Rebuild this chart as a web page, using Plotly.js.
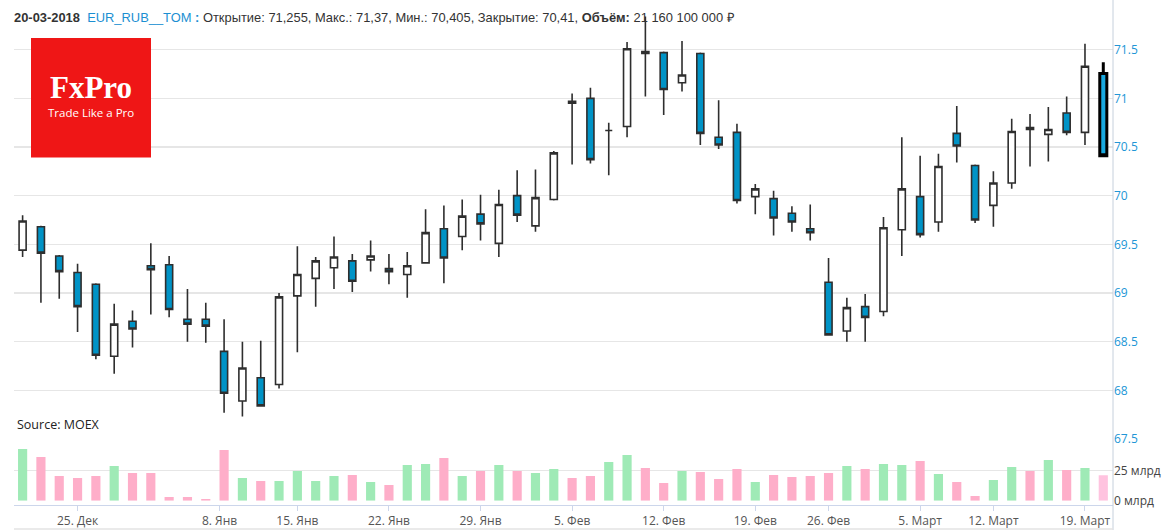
<!DOCTYPE html>
<html>
<head>
<meta charset="utf-8">
<script src="https://cdn.plot.ly/plotly-3.0.1.min.js"></script>
<style>
html,body{margin:0;padding:0;background:#fff;}
#chart{width:1165px;height:530px;}
</style>
</head>
<body>
<div id="chart"></div>
<script>
// ---- data ----
const dates = [
 '2017-12-20','2017-12-21','2017-12-22','2017-12-25','2017-12-26','2017-12-27','2017-12-28','2017-12-29',
 '2018-01-03','2018-01-04','2018-01-05','2018-01-09','2018-01-10','2018-01-11','2018-01-12',
 '2018-01-15','2018-01-16','2018-01-17','2018-01-18','2018-01-19',
 '2018-01-22','2018-01-23','2018-01-24','2018-01-25','2018-01-26',
 '2018-01-29','2018-01-30','2018-01-31','2018-02-01','2018-02-02',
 '2018-02-05','2018-02-06','2018-02-07','2018-02-08','2018-02-09',
 '2018-02-12','2018-02-13','2018-02-14','2018-02-15','2018-02-16',
 '2018-02-19','2018-02-20','2018-02-21','2018-02-22',
 '2018-02-26','2018-02-27','2018-02-28','2018-03-01','2018-03-02',
 '2018-03-05','2018-03-06','2018-03-07','2018-03-09',
 '2018-03-12','2018-03-13','2018-03-14','2018-03-15','2018-03-16',
 '2018-03-19','2018-03-20'
];
const openP = [
 69.44,69.68,69.38,69.21,69.09,68.35,68.71,69.28,
 69.29,68.73,68.73,68.40,67.89,68.13,68.06,
 68.97,69.15,69.26,69.33,69.34,
 69.25,69.19,69.31,69.66,69.58,
 69.81,69.51,70.00,69.69,69.96,
 70.97,71.00,70.67,70.71,71.48,
 71.47,71.16,71.46,70.60,70.65,
 69.99,69.97,69.82,69.66,
 69.11,68.61,68.86,68.81,69.65,
 69.99,69.73,70.64,70.31,
 69.90,70.13,70.70,70.63,70.85,
 70.65,71.255
];
const highP = [
 69.80,69.69,69.39,69.30,69.10,68.89,68.82,69.51,
 69.38,69.04,68.90,68.73,68.50,68.51,69.00,
 69.48,69.37,69.58,69.40,69.54,
 69.40,69.42,69.86,69.90,69.96,
 70.01,70.06,70.26,70.27,70.46,
 71.05,71.11,70.75,71.58,71.84,
 71.48,71.59,71.47,70.98,70.74,
 70.12,70.05,69.89,69.91,
 69.36,68.95,68.99,69.78,70.60,
 70.41,70.43,70.92,70.32,
 70.25,70.79,70.84,70.91,71.02,
 71.56,71.37
];
const lowP = [
 69.37,68.90,68.94,68.60,68.32,68.17,68.44,68.78,
 68.75,68.50,68.49,67.77,67.73,67.84,68.02,
 68.39,68.86,69.04,69.01,69.22,
 69.09,68.95,69.30,69.10,69.44,
 69.54,69.37,69.73,69.63,69.95,
 70.32,70.33,70.21,70.60,71.02,
 70.83,71.07,70.52,70.48,69.92,
 69.81,69.59,69.63,69.54,
 68.57,68.50,68.50,68.76,69.38,
 69.57,69.63,70.34,69.72,
 69.68,70.07,70.30,70.35,70.62,
 70.52,70.405
];
const closeP = [
 69.74,69.41,69.22,68.86,68.36,68.68,68.63,69.24,
 68.83,68.68,68.66,67.97,68.23,67.84,68.96,
 69.19,69.33,69.37,69.12,69.38,
 69.22,69.28,69.62,69.36,69.79,
 69.71,69.91,69.80,69.98,70.44,
 70.95,70.37,70.67,71.51,71.46,
 71.09,71.24,70.64,70.52,69.95,
 70.07,69.77,69.73,69.62,
 68.57,68.85,68.75,69.67,70.07,
 69.60,70.30,70.51,69.75,
 70.13,70.66,70.68,70.68,70.65,
 71.33,70.41
];
// turnover, billions of roubles
const volumeBn = [
 43.1,36.4,20.6,18.9,20.6,28.9,23.1,23.1,
 3.1,3.1,1.4,42.2,18.9,16.4,16.4,
 24.7,16.4,20.6,21.4,15.6,
 13.1,29.7,30.6,35.6,20.6,
 24.7,29.7,24.7,23.1,26.4,
 18.9,20.6,32.2,38.1,27.2,
 14.7,24.7,23.9,18.1,26.4,
 15.6,21.4,19.7,20.6,
 23.1,28.9,26.4,30.6,29.7,
 33.1,22.2,15.6,3.9,
 17.2,28.1,24.7,33.9,25.6,
 27.2,21.16
];
const lastVolumeRub = 21160100000;
const tickDates = ['2017-12-25','2018-01-08','2018-01-15','2018-01-22','2018-01-29','2018-02-05',
                   '2018-02-12','2018-02-19','2018-02-26','2018-03-05','2018-03-12','2018-03-19'];
const tickLabels = ['25. Дек','8. Янв','15. Янв','22. Янв','29. Янв','5. Фев',
                    '12. Фев','19. Фев','26. Фев','5. Март','12. Март','19. Март'];
const priceTicks = [67.5,68,68.5,69,69.5,70,70.5,71,71.5,72];
const volTicks = [0,25,50];
const volTickLabels = ['0 млрд','25 млрд',''];
const ticker = 'EUR_RUB__TOM';

// ---- helpers ----
const N = dates.length;
const idx = dates.map((d,i)=>i);
const times = dates.map(d=>Date.parse(d));
function ordinalPos(d){
  const t = Date.parse(d);
  for(let i=0;i<N-1;i++){
    if(t>=times[i] && t<times[i+1]) return i + (t-times[i])/(times[i+1]-times[i]);
  }
  return N-1;
}
const tickPos = tickDates.map(ordinalPos);
const dir = closeP.map((c,i)=> c>openP[i] ? 1 : (c<openP[i] ? -1 : (i>0 && c>=closeP[i-1] ? 1 : -1)));
const volColors = dir.map((d,i)=> i===N-1 ? '#ffc3df' : (d>0 ? '#9feab6' : '#feaec9'));
const fmt = v => String(v).replace('.',',');
const fmtVol = v => String(v).replace(/\B(?=(\d{3})+(?!\d))/g,'\u00a0');

const W=1165, H=530;
const px = x => x/W;
const py = y => (H-y)/H;

const main = {
  type:'candlestick', x: idx.slice(0,N-1),
  open: openP.slice(0,N-1), high: highP.slice(0,N-1), low: lowP.slice(0,N-1), close: closeP.slice(0,N-1),
  increasing:{fillcolor:'#ffffff', line:{color:'#2e2e2e', width:1.6}},
  decreasing:{fillcolor:'#0093c6', line:{color:'#2e2e2e', width:1.6}},
  whiskerwidth:0, xaxis:'x', yaxis:'y', hoverinfo:'skip'
};
const last = {
  type:'candlestick', x: idx.slice(N-1),
  open: openP.slice(N-1), high: highP.slice(N-1), low: lowP.slice(N-1), close: closeP.slice(N-1),
  increasing:{fillcolor:'#ffffff', line:{color:'#000', width:3}},
  decreasing:{fillcolor:'#19a9e0', line:{color:'#000', width:3}},
  whiskerwidth:0, xaxis:'x', yaxis:'y', hoverinfo:'skip'
};
const vol = {
  type:'bar', x: idx, y: volumeBn, marker:{color: volColors, line:{width:0}},
  xaxis:'x', yaxis:'y2', hoverinfo:'skip'
};

const L = closeP.length-1;
const headerText =
  '<b>20-03-2018</b>\u00a0\u00a0<span style="color:#1b8fd2">'+ticker+'\u00a0<b>:</b></span> '+
  'Открытие: '+fmt(openP[L])+', Макс.: '+fmt(highP[L])+', Мин.: '+fmt(lowP[L])+', Закрытие: '+fmt(closeP[L])+', '+
  '<b>Объём:</b> '+fmtVol(lastVolumeRub)+' ₽';

const layout = {
  width:W, height:H, margin:{l:0,r:0,t:0,b:0},
  paper_bgcolor:'#fff', plot_bgcolor:'rgba(0,0,0,0)',
  showlegend:false, hovermode:false, boxgap:0.45, bargap:0.5,
  xaxis:{
    domain:[px(14), px(1113)], range:[-0.47, 59.53], anchor:'free', position:py(505),
    showgrid:false, zeroline:false, showline:true, linecolor:'#ccd6eb', linewidth:1,
    ticks:'outside', ticklen:5, tickcolor:'#ccd6eb', tickwidth:1,
    tickmode:'array', tickvals:tickPos, ticktext:tickLabels,
    tickfont:{family:'Open Sans, sans-serif', size:12, color:'#555'},
    rangeslider:{visible:false}, fixedrange:true
  },
  yaxis:{
    domain:[py(439), py(1)], range:[67.5, 72.0], side:'right', anchor:'x',
    tickmode:'array', tickvals:priceTicks, ticktext:priceTicks.map(v=> v===72 ? '' : String(v)),
    showgrid:true, gridcolor:'#e6e6e6', gridwidth:1.5, zeroline:false, showline:false, ticks:'',
    tickfont:{family:'Open Sans, sans-serif', size:12, color:'#2196d6'}, fixedrange:true
  },
  yaxis2:{
    domain:[py(500.7), py(440.7)], range:[0, 50], side:'right', anchor:'x',
    tickmode:'array', tickvals:volTicks, ticktext:volTickLabels,
    showgrid:true, gridcolor:'#e6e6e6', gridwidth:1.5, zeroline:false, showline:false, ticks:'',
    tickfont:{family:'Open Sans, sans-serif', size:12, color:'#444'}, fixedrange:true
  },
  shapes:[
    {type:'rect', xref:'paper', yref:'paper', x0:px(31), x1:px(151), y0:py(157.5), y1:py(38), fillcolor:'#ef1616', line:{width:0}, layer:'above'},
    {type:'line', xref:'paper', yref:'paper', x0:px(1113), x1:px(1113), y0:0, y1:1, line:{color:'#c6d0dc', width:1}},
    {type:'line', xref:'paper', yref:'paper', x0:px(14), x1:px(1113), y0:py(529), y1:py(529), line:{color:'#e3e3e3', width:1.5}}
  ],
  annotations:[
    {xref:'paper', yref:'paper', x:px(12), y:py(18), xanchor:'left', yanchor:'middle', showarrow:false,
     text:headerText, font:{family:'Liberation Sans, Arial, sans-serif', size:12.9, color:'#333'}},
    {xref:'paper', yref:'paper', x:px(15), y:py(425), xanchor:'left', yanchor:'middle', showarrow:false,
     text:'Source: MOEX', font:{family:'Open Sans, sans-serif', size:12.5, color:'#222'}},
    {xref:'paper', yref:'paper', x:px(91), y:py(107), xanchor:'center', yanchor:'bottom', showarrow:false,
     text:'<b>FxPro</b>', font:{family:'Liberation Serif, serif', size:31, color:'#ffffff'}},
    {xref:'paper', yref:'paper', x:px(91), y:py(112.5), xanchor:'center', yanchor:'middle', showarrow:false,
     text:'Trade Like a Pro', font:{family:'Open Sans, sans-serif', size:11.5, color:'#ffffff'}}
  ]
};

Plotly.newPlot('chart', [vol, main, last], layout, {staticPlot:true, displayModeBar:false});
</script>
</body>
</html>
